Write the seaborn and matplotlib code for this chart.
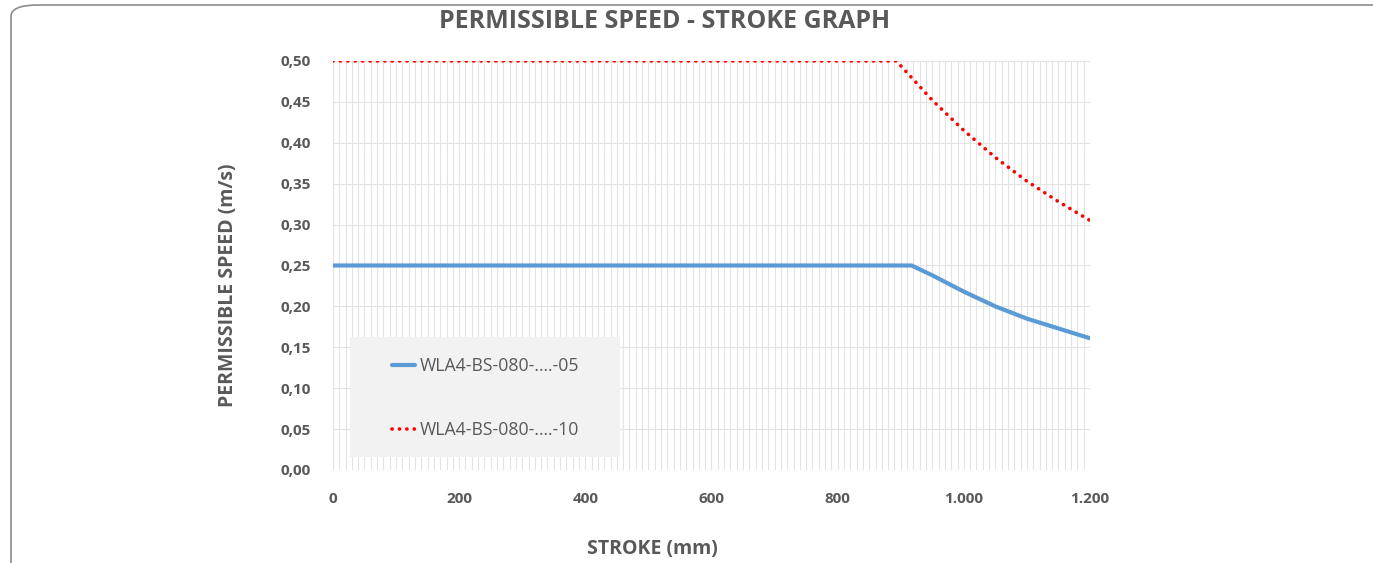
import numpy as np
import pandas as pd
import matplotlib
matplotlib.use("Agg")
import matplotlib.pyplot as plt
from matplotlib.patches import FancyBboxPatch, Rectangle
from matplotlib.ticker import MultipleLocator, FuncFormatter
import seaborn as sns

sns.set_style("white")
plt.rcParams["font.family"] = ["Open Sans", "DejaVu Sans"]

# data
stroke_05 = [0, 917, 950, 1000, 1050, 1100, 1150, 1200]
speed_05 = [0.25, 0.25, 0.238, 0.218, 0.200, 0.185, 0.173, 0.161]
stroke_10 = [0, 893, 950, 1000, 1050, 1100, 1150, 1200]
speed_10 = [0.50, 0.50, 0.452, 0.415, 0.382, 0.353, 0.328, 0.305]
labels = ["WLA4-BS-080-….-05", "WLA4-BS-080-….-10"]

df = pd.concat([
    pd.DataFrame({"stroke": stroke_05, "speed": speed_05, "model": labels[0]}),
    pd.DataFrame({"stroke": stroke_10, "speed": speed_10, "model": labels[1]}),
])

grey = "#595959"
widths = [3.0, 2.6]
fig = plt.figure(figsize=(13.73, 5.63), dpi=100)
ax = fig.add_axes([0.2425, 0.1652, 0.5514, 0.7265])

# card border
card = FancyBboxPatch((11 / 1373, -0.05), 1.2, 1 - 5 / 563 + 0.05,
                      boxstyle="round,pad=0,rounding_size=0.02",
                      transform=fig.transFigure, fill=False,
                      edgecolor="#8c8c8c", linewidth=1.2, zorder=-5)
fig.patches.append(card)

sns.lineplot(data=df, x="stroke", y="speed", hue="model", style="model",
             palette=["#5b9bd5", "#ff0000"],
             dashes={labels[0]: "", labels[1]: (0.05, 2.0)},
             ax=ax, sort=False, estimator=None)
for ln, lw in zip(ax.lines, widths):
    ln.set_linewidth(lw)
ax.lines[1].set_dash_capstyle("round")

ax.set_xlim(0, 1200)
ax.set_ylim(0, 0.5)
ax.xaxis.set_major_locator(MultipleLocator(200))
ax.xaxis.set_minor_locator(MultipleLocator(10))
ax.yaxis.set_major_locator(MultipleLocator(0.05))
ax.xaxis.set_major_formatter(FuncFormatter(lambda v, p: f"{int(v):,}".replace(",", ".")))
ax.yaxis.set_major_formatter(FuncFormatter(lambda v, p: f"{v:.2f}".replace(".", ",")))
ax.grid(True, which="both", axis="x", color="#e3e3e3", linewidth=0.8)
ax.grid(True, which="major", axis="y", color="#e3e3e3", linewidth=0.8)
ax.set_axisbelow(True)
for s in ax.spines.values():
    s.set_visible(False)
ax.tick_params(axis="both", which="both", length=0, colors=grey, labelsize=11)
ax.tick_params(axis="x", pad=16)
ax.tick_params(axis="y", pad=16)
for t in ax.get_xticklabels() + ax.get_yticklabels():
    t.set_fontweight("bold")

ax.set_xlabel("")
ax.set_ylabel("")
fig.text(652 / 1373, 1 - 549 / 563, "STROKE (mm)", ha="center", va="center",
         fontsize=14, fontweight="bold", color=grey)
fig.text(228 / 1373, 1 - 285 / 563, "PERMISSIBLE SPEED (m/s)", ha="center", va="center",
         rotation=90, fontsize=14, fontweight="bold", color=grey)
fig.text(665 / 1373, 1 - 22 / 563, "PERMISSIBLE SPEED - STROKE GRAPH",
         ha="center", va="center", fontsize=18, fontweight="bold", color=grey)

# legend: grey panel plus frameless legend inside it
ax.add_patch(Rectangle((0.0225, 0.0318), 0.357, 0.293, transform=ax.transAxes,
                       facecolor="#f2f2f2", edgecolor="none", zorder=1.5))
handles, _ = ax.get_legend_handles_labels()
leg = ax.legend(handles, labels, loc="upper left",
                bbox_to_anchor=((392 - 333) / 757, (470 - 357) / 409),
                frameon=False, fontsize=12.7, labelcolor=grey, handlelength=1.3,
                handletextpad=0.25, labelspacing=2.6, borderpad=0, borderaxespad=0)
for t in leg.get_texts():
    t.set_color(grey)
for h, lw in zip(leg.legend_handles, widths):
    h.set_linewidth(lw)
    h.set_dash_capstyle("round")

fig.savefig("out.png", dpi=100, facecolor="white")
